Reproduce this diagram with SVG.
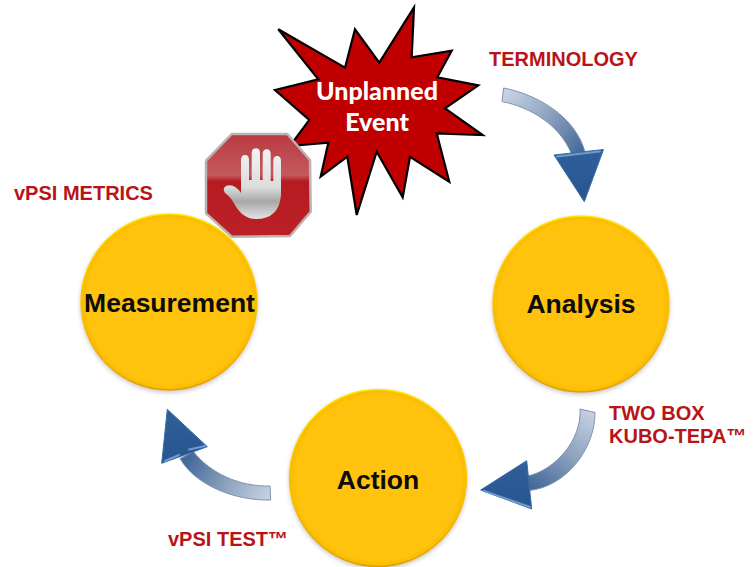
<svg xmlns="http://www.w3.org/2000/svg" width="753" height="567" viewBox="0 0 753 567">
<style>
.lbl{font-family:"Liberation Sans",Arial,sans-serif;font-weight:700;font-size:20px;fill:#B81418}
.ct{font-family:"Liberation Sans",Arial,sans-serif;font-weight:700;font-size:26.500px;fill:#0c0c0c;text-anchor:middle}
.ev{font-family:Lato,"Open Sans",sans-serif;font-weight:900;font-size:25px;fill:#fff;text-anchor:middle}
.disc{fill:url(#disc);stroke:url(#rim);stroke-width:1.500;filter:url(#shadow)}
.shaft{stroke:#7f93b0;stroke-width:1}
.head{stroke:#3a6ea5;stroke-width:1;stroke-linejoin:round}
.bevel{fill:none;stroke:#6f9ad0;stroke-width:2;stroke-linecap:round}
</style>
<defs>
<radialGradient id="disc" cx=".5" cy=".5" r=".5">
<stop offset="0" stop-color="#FFC208"/><stop offset=".94" stop-color="#FFC208"/><stop offset="1" stop-color="#F8BA00"/>
</radialGradient>
<linearGradient id="rim" x1="0" y1="0" x2="0" y2="1">
<stop offset="0" stop-color="#FFE800"/><stop offset=".3" stop-color="#FFD000"/><stop offset=".7" stop-color="#F5B800"/><stop offset="1" stop-color="#DFA000"/>
</linearGradient>
<filter id="shadow" x="-10%" y="-10%" width="120%" height="120%"><feDropShadow dx="0" dy="2" stdDeviation="2" flood-color="#888" flood-opacity=".45"/></filter>
<linearGradient id="a1" gradientUnits="userSpaceOnUse" x1="505" y1="95" x2="580" y2="155"><stop offset="0" stop-color="#c6d2e2"/><stop offset=".5" stop-color="#8ba1be"/><stop offset="1" stop-color="#44699a"/></linearGradient>
<linearGradient id="a2" gradientUnits="userSpaceOnUse" x1="590" y1="410" x2="530" y2="485"><stop offset="0" stop-color="#c6d2e2"/><stop offset=".5" stop-color="#8ba1be"/><stop offset="1" stop-color="#44699a"/></linearGradient>
<linearGradient id="a3" gradientUnits="userSpaceOnUse" x1="270" y1="495" x2="190" y2="455"><stop offset="0" stop-color="#c6d2e2"/><stop offset=".5" stop-color="#8ba1be"/><stop offset="1" stop-color="#44699a"/></linearGradient>
<linearGradient id="hd" x1="0" y1="0" x2="0" y2="1"><stop offset="0" stop-color="#2f5f9a"/><stop offset="1" stop-color="#28558e"/></linearGradient>
<linearGradient id="stop" x1="0" y1="0" x2="0" y2="1"><stop offset="0" stop-color="#b83a40"/><stop offset=".4" stop-color="#c45a5e"/><stop offset=".46" stop-color="#b51c22"/><stop offset="1" stop-color="#bc2026"/></linearGradient>
<linearGradient id="hand" x1="0" y1="0" x2="0" y2="1"><stop offset="0" stop-color="#f4f4f4"/><stop offset=".55" stop-color="#dcdcdc"/><stop offset=".75" stop-color="#a8a8a8"/><stop offset="1" stop-color="#e2e2e2"/></linearGradient>
</defs>
<g id="connectors">
<path class="shaft" fill="url(#a1)" d="M503.500 88C535 94 575 115 585 152L571.500 154C560 125 530 107 502 101.500Z"/>
<path class="head" fill="url(#hd)" d="M554 155L603.500 149.500L584.300 201.700Z"/>
<path class="bevel" d="M557 156.500L600 151.500"/>
<path class="shaft" fill="url(#a2)" d="M580 409L595 412.500C595 450 565 487 529 490.500L528 476C555 470 582 440 580 409Z"/>
<path class="head" fill="url(#hd)" d="M526.700 460.700L531.700 509L480.700 490Z"/>
<path class="bevel" d="M484 491L530 507"/>
<path class="shaft" fill="url(#a3)" d="M270 486L270.700 500C235 501 195 485 180 458.500L193.500 451.700C210 473 240 487 270 486Z"/>
<path class="head" fill="url(#hd)" d="M207.300 446.700L161.700 463.300L167.300 409.300Z"/>
<path class="bevel" d="M165 461L179 455M189 449.500L205 446"/>
</g>
<g id="node-measurement">
<circle class="disc" cx="169" cy="302" r="88"/>
<text class="ct" x="169.500" y="312">Measurement</text>
</g>
<g id="node-analysis">
<circle class="disc" cx="581" cy="304" r="88"/>
<text class="ct" x="581" y="313">Analysis</text>
</g>
<g id="node-action">
<circle class="disc" cx="378" cy="478" r="88.500"/>
<text class="ct" x="378" y="489">Action</text>
</g>
<g id="node-event">
<polygon fill="#C00000" stroke="#000" stroke-width="2.200" stroke-linejoin="miter" points="278.300,29.300 345,67.700 355,29.300 379.300,62.700 414,7.300 411.700,57.300 451.700,50.700 437.300,77.300 478.300,85.300 445,108.300 482.700,135 436.700,133.300 449.300,181.700 410,156.700 402.700,197.300 376.700,151.700 356.700,215 347.300,156.700 320.700,176.700 328.300,142.700 290,146 309.300,120 275,90 318.300,79.300"/>
<text class="ev" x="377" y="100">Unplanned</text>
<text class="ev" x="377" y="131">Event</text>
</g>
<g id="node-stop">
<polygon fill="url(#stop)" stroke="#b9b4b2" stroke-width="2.500" stroke-linejoin="round" points="231.700,134 287.300,134 310,160 310.700,211.700 290,236 231.700,236.700 206,213.300 206,160.700"/>
<path fill="url(#hand)" d="M241 182V160Q241 155 245 155Q249 155 249 160V180H251.700V153Q251.700 148.300 256 148.300Q260 148.300 260 153V180H262.700V154Q262.700 149.300 266.700 149.300Q270.700 149.300 270.700 154V181H273.300V161Q273.300 156 277 156Q281 156 281 161V195Q279 219 256 219Q243 219 235 205Q230 196 225 193Q222 188 226 186Q234 183 241 193Z"/>
</g>
<g id="labels">
<text class="lbl" x="489" y="65.500">TERMINOLOGY</text>
<text class="lbl" x="14" y="199.500">vPSI METRICS</text>
<text class="lbl" x="609" y="419.500">TWO BOX</text>
<text class="lbl" x="609" y="443">KUBO-TEPA™</text>
<text class="lbl" x="168" y="546">vPSI TEST™</text>
</g>
</svg>
